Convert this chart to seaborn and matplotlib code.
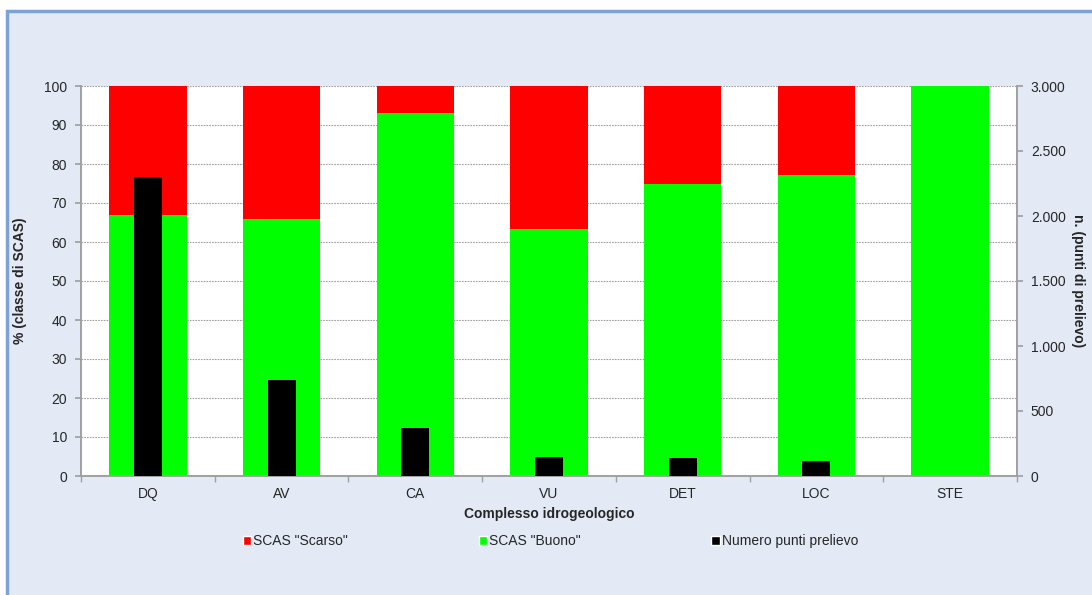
import matplotlib
matplotlib.use("Agg")
import matplotlib.pyplot as plt
import matplotlib.ticker as mticker
from matplotlib.patches import Patch
import seaborn as sns
import pandas as pd
import numpy as np

categories = ["DQ", "AV", "CA", "VU", "DET", "LOC", "STE"]
buono = [67, 66, 93, 63.3, 75, 77.2, 100]
scarso = [33, 34, 7, 36.7, 25, 22.8, 0]
punti = [2300, 740, 371, 146, 141, 118, 0]

sns.set_theme(style="white")
plt.rcParams['font.family'] = ['Liberation Sans', 'DejaVu Sans']

bg = "#E3EAF6"
df = pd.DataFrame({"cat": categories, "buono": buono,
                   "totale": np.array(buono) + np.array(scarso), "punti": punti})

fig = plt.figure(figsize=(10.92, 5.95), dpi=100, facecolor="white")
# background panel with border
fig.patches.append(plt.Rectangle((7/1092, -0.1), 1.2, 0.1 + (595-11)/595, transform=fig.transFigure,
                                 facecolor=bg, edgecolor="#7DA3D6", linewidth=2.5, zorder=-10))

ax = fig.add_axes([81/1092, 1-476/595, (1017-81)/1092, (476-86)/595])
ax.set_facecolor("white")
sns.barplot(data=df, x="cat", y="totale", color="#FF0000", width=0.58, ax=ax,
            saturation=1, edgecolor="none", order=categories, zorder=2)
sns.barplot(data=df, x="cat", y="buono", color="#00FF00", width=0.58, ax=ax,
            saturation=1, edgecolor="none", order=categories, zorder=3)
ax.set_ylim(0, 100)
ax.set_xlim(-0.5, 6.5)
ax.set_yticks(range(0, 101, 10))
ax.yaxis.grid(True, linestyle=(0, (1.5, 1)), color="#A0A0A0", linewidth=0.8, zorder=0)
ax.set_axisbelow(True)
ax.set_ylabel("% (classe di SCAS)", fontsize=10, fontweight="bold", labelpad=12)
ax.set_xlabel("Complesso idrogeologico", fontsize=10, fontweight="bold", labelpad=4)
ax.tick_params(axis="y", left=True, length=4, color="#A0A0A0", labelsize=10, pad=6)
ax.tick_params(axis="x", which="major", length=0, labelsize=10, pad=8)
ax.set_xticks(np.arange(-0.5, 7, 1), minor=True)
ax.tick_params(axis="x", which="minor", bottom=True, length=4, color="#A0A0A0")
for s in ["left", "right", "bottom"]:
    ax.spines[s].set_color("#A0A0A0")
    ax.spines[s].set_linewidth(1.2)
ax.spines["top"].set_visible(False)

ax2 = ax.twinx()
sns.barplot(data=df, x="cat", y="punti", color="#000000", width=0.21, ax=ax2,
            saturation=1, edgecolor="none", order=categories, zorder=4)
ax2.set_ylim(0, 3000)
ax2.set_xlim(-0.5, 6.5)
ax2.set_yticks(range(0, 3001, 500))
ax2.yaxis.set_major_formatter(mticker.FuncFormatter(lambda v, p: f"{int(v):,}".replace(",", ".")))
ax2.set_ylabel("n. (punti di prelievo)", fontsize=10, fontweight="bold", rotation=270, labelpad=14)
ax2.tick_params(axis="y", right=True, length=4, color="#A0A0A0", labelsize=10, pad=6)
for s in ["left", "right", "bottom"]:
    ax2.spines[s].set_color("#A0A0A0")
    ax2.spines[s].set_linewidth(1.2)
ax2.spines["top"].set_visible(False)
ax2.grid(False)

handles = [Patch(facecolor="#FF0000", label='SCAS "Scarso"'),
           Patch(facecolor="#00FF00", label='SCAS "Buono"'),
           Patch(facecolor="#000000", label="Numero punti prelievo")]
fig.legend(handles=handles, loc="center left", bbox_to_anchor=(243/1092, 1-541/595), ncol=3,
           frameon=False, fontsize=10, handlelength=0.6, handleheight=0.6,
           handletextpad=0.15, columnspacing=9.4, borderpad=0, borderaxespad=0)

fig.savefig("out.png", dpi=100, facecolor="white")
